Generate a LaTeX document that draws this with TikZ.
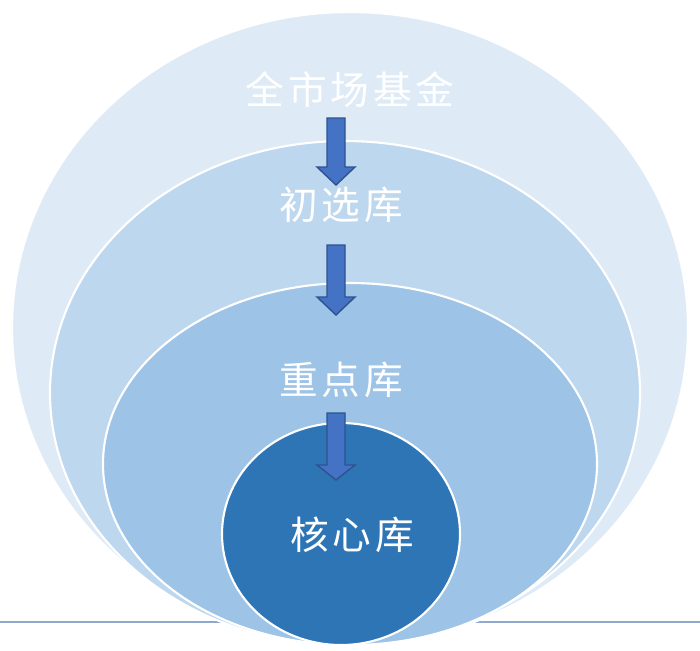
\documentclass[tikz,border=0pt]{standalone}
\usepackage{fontspec}
\newfontfamily\cjk{Noto Sans CJK SC}
\usepackage{tikz}

\definecolor{ringa}{RGB}{222,235,247}
\definecolor{ringb}{RGB}{189,215,238}
\definecolor{ringc}{RGB}{157,195,230}
\definecolor{ringd}{RGB}{46,117,182}
\definecolor{arrowfill}{RGB}{68,114,196}
\definecolor{arrowline}{RGB}{47,82,143}
\definecolor{rulecol}{RGB}{143,168,205}
\newcommand{\gap}{\hspace{0.1em}}

\begin{document}
\begin{tikzpicture}
    [x=0.02cm, y=-0.02cm,
     ring/.style={draw=white, line width=1.2pt},
     label/.style={text=white, font=\cjk\fontsize{22}{22}\selectfont},
     block arrow/.style={fill=arrowfill, draw=arrowline, line width=0.8pt, line join=miter}]
    \useasboundingbox (0, 0) rectangle (700, 650);
    % base line behind the rings
    \draw[draw=rulecol, line width=0.7pt] (0, 622) -- (700, 622);
    \draw[ring, fill=ringa] (350, 328) ellipse [x radius=338, y radius=316];
    \draw[ring, fill=ringb] (345, 393) ellipse [x radius=295, y radius=252];
    \draw[ring, fill=ringc] (350, 464) ellipse [x radius=247, y radius=181];
    \draw[ring, fill=ringd] (341, 534) ellipse [x radius=119, y radius=111];
    \node[label] (full) at (350, 90) {全\gap 市\gap 场\gap 基\gap 金};
    \node[label] (prim) at (341, 205) {初\gap 选\gap 库};
    \node[label] (focus) at (341, 380) {重\gap 点\gap 库};
    \node[label] (core) at (352, 535) {核\gap 心\gap 库};
    % block arrows: top, head base, tip
    \foreach \t/\b/\p in {118/167/185, 245/297/315, 413/465/480}
      \draw[block arrow] (327, \t) -- (345, \t) -- (345, \b) -- (355, \b)
        -- (336, \p) -- (317, \b) -- (327, \b) -- cycle;
  \end{tikzpicture}
\end{document}
